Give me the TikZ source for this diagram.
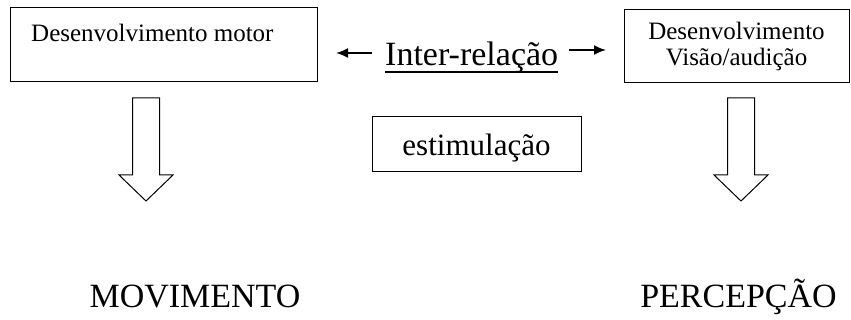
\documentclass[tikz,border=0pt]{standalone}
\usepackage{fontspec}
\setmainfont{Liberation Serif}
\usetikzlibrary{arrows.meta}
\tikzset{
    box/.style = {draw, line width=1pt, inner sep=0pt},
    small/.style = {font=\fontsize{25}{26}\selectfont},
    big/.style = {font=\fontsize{34}{38}\selectfont},
    hollow/.style = {draw, line width=1pt, line join=miter},
    thin arrow/.style = {-{Latex[length=12pt,width=10pt]}, line width=1.8pt},
}
\begin{document}
\begin{tikzpicture}[x=1pt, y=-1pt]
    \useasboundingbox (0,0) rectangle (851,320);
    % the two boxes on top
    \node [box, minimum width=307pt, minimum height=74pt] (motorbox) at (163.5,45) {};
    \node [small, anchor=base west, inner sep=0pt] (motor) at (31,42) {Desenvolvimento motor};
    \node [box, small, align=center, minimum width=225pt, minimum height=73pt] (visao) at (736.5,46.5) {Desenvolvimento\\Visão/audição};
    \node [box, font=\fontsize{31}{34}\selectfont, text depth=0pt, minimum width=209pt, minimum height=55pt] (estim) at (476.5,144.5) {estimulação};
    % inter-relacao with its two arrows
    \node [big, anchor=base west, inner sep=0pt] (inter) at (385,66) {Inter-relação};
    \draw [line width=1.2pt] ([yshift=-6pt]inter.base west) -- ([yshift=-6pt]inter.base east);
    \coordinate (leftstart) at (372,53);
    \coordinate (leftend) at (336,53);
    \coordinate (rightstart) at (569,50);
    \coordinate (rightend) at (606,50);
    \draw [thin arrow] (leftstart) -- (leftend);
    \draw [thin arrow] (rightstart) -- (rightend);
    % hollow block arrows
    \draw [hollow] (132.5,98) -- (159.5,98) -- (159.5,175) -- (173,175) -- (146,201)
        -- (119,175) -- (132.5,175) -- cycle;
    \draw [hollow] (727.5,98) -- (754.5,98) -- (754.5,175) -- (768,175) -- (741,201)
        -- (714,175) -- (727.5,175) -- cycle;
    % results
    \node [big, anchor=base] (movimento) at (195,307) {MOVIMENTO};
    \node [big, anchor=base] (percepcao) at (738.5,307) {PERCEPÇÃO};
\end{tikzpicture}
\end{document}
